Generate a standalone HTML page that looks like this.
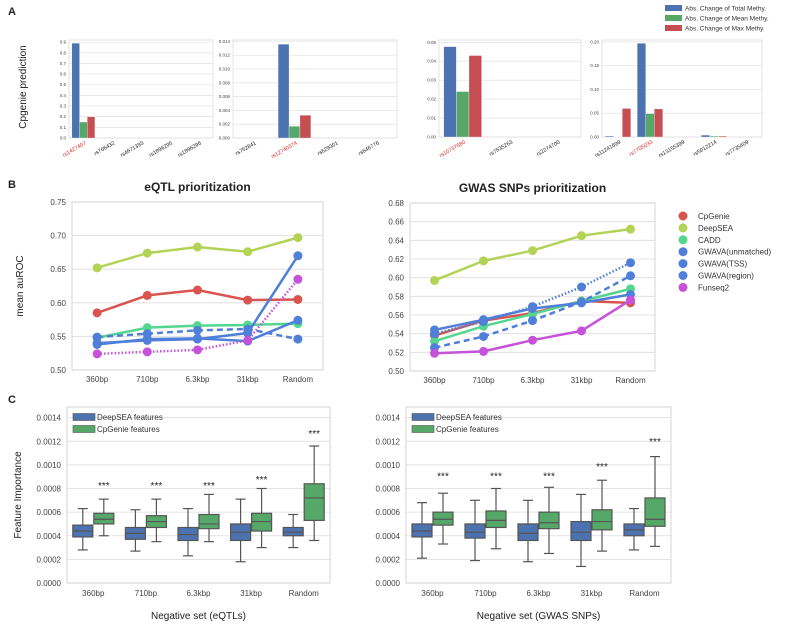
<!DOCTYPE html>
<html><head><meta charset="utf-8">
<style>
body{margin:0;background:#fff;}
svg{display:block;font-family:"Liberation Sans","DejaVu Sans",sans-serif;}
</style></head>
<body>
<svg id="fig" width="786" height="625" viewBox="0 0 786 625"></svg>
<script>
// ---------- Panel A data ----------
const aCats1=["rs1427407","rs766432","rs4671393","rs1896295","rs1896296"];
const aTotal1=[0.89,0,0,0,0], aMean1=[0.15,0,0,0,0], aMax1=[0.20,0,0,0,0];
const aTicks1=["0.0","0.1","0.2","0.3","0.4","0.5","0.6","0.7","0.8","0.9"];
const aCats2=["rs752841","rs12740374","rs629301","rs646776"];
const aTotal2=[0,0.0136,0,0], aMean2=[0,0.0017,0,0], aMax2=[0,0.0033,0,0];
const aTicks2=["0.000","0.002","0.004","0.006","0.008","0.010","0.012","0.014"];
const aCats3=["rs10737680","rs7535263","rs2274700"];
const aTotal3=[0.0477,0,0], aMean3=[0.024,0,0], aMax3=[0.043,0,0];
const aTicks3=["0.00","0.01","0.02","0.03","0.04","0.05"];
const aCats4=["rs11241699","rs7705033","rs13155399","rs5012214","rs7735409"];
const aTotal4=[0.002,0.197,0,0.004,0], aMean4=[0.0005,0.049,0,0.002,0], aMax4=[0.06,0.059,0,0.002,0];
const aTicks4=["0.00","0.05","0.10","0.15","0.20"];
const aHighlight=["rs1427407","rs12740374","rs10737680","rs7705033"];

// ---------- Panel B data ----------
const bCats=["360bp","710bp","6.3kbp","31kbp","Random"];
const bSeries=["CpGenie","DeepSEA","CADD","GWAVA(unmatched)","GWAVA(TSS)","GWAVA(region)","Funseq2"];
const bTicksL=["0.50","0.55","0.60","0.65","0.70","0.75"];
const bTicksR=["0.50","0.52","0.54","0.56","0.58","0.60","0.62","0.64","0.66","0.68"];
const eCpGenie=[0.585,0.611,0.619,0.604,0.605];
const eDeepSEA=[0.652,0.674,0.683,0.676,0.697];
const eCADD=[0.548,0.563,0.566,0.567,0.569];
const eUnmatched=[0.538,0.546,0.547,0.543,0.574];
const eTSS=[0.549,0.554,0.559,0.561,0.546];
const eRegion=[0.540,0.544,0.546,0.555,0.670];
const eFunseq=[0.524,0.527,0.530,0.544,0.635];
const gCpGenie=[0.538,0.554,0.562,0.575,0.573];
const gDeepSEA=[0.597,0.618,0.629,0.645,0.652];
const gCADD=[0.532,0.548,0.561,0.575,0.588];
const gUnmatched=[0.544,0.555,0.567,0.573,0.582];
const gTSS=[0.525,0.537,0.554,0.574,0.602];
const gRegion=[0.540,0.553,0.569,0.590,0.616];
const gFunseq=[0.519,0.521,0.533,0.543,0.576];

// ---------- Panel C data ----------
const cTicks=["0.0000","0.0002","0.0004","0.0006","0.0008","0.0010","0.0012","0.0014"];
// [whisker low, q1, median, q3, whisker high]
const eqDeep=[[0.00028,0.00039,0.00044,0.00049,0.00063],[0.00027,0.00037,0.00042,0.00047,0.00062],[0.00023,0.00036,0.00041,0.00047,0.00063],[0.00018,0.00036,0.00043,0.00050,0.00071],[0.00030,0.00040,0.00043,0.00047,0.00058]];
const eqCpG=[[0.00040,0.00050,0.00054,0.00059,0.00071],[0.00035,0.00047,0.00052,0.00057,0.00071],[0.00035,0.00046,0.00050,0.00058,0.00075],[0.00030,0.00044,0.00052,0.00059,0.00080],[0.00036,0.00053,0.00072,0.00084,0.00116]];
const eqStars=[0.00084,0.00084,0.00084,0.00089,0.00128];
const gwDeep=[[0.00021,0.00039,0.00044,0.00050,0.00068],[0.00019,0.00038,0.00043,0.00050,0.00070],[0.00018,0.00036,0.00042,0.00050,0.00070],[0.00014,0.00036,0.00043,0.00052,0.00075],[0.00028,0.00040,0.00045,0.00050,0.00063]];
const gwCpG=[[0.00033,0.00049,0.00054,0.00060,0.00076],[0.00029,0.00047,0.00053,0.00061,0.00080],[0.00025,0.00046,0.00051,0.00060,0.00081],[0.00027,0.00045,0.00052,0.00062,0.00087],[0.00031,0.00048,0.00054,0.00072,0.00107]];
const gwStars=[0.00092,0.00092,0.00092,0.00100,0.00121];

const NS="http://www.w3.org/2000/svg";
const svg=document.getElementById('fig');
function el(tag,attrs,parent){const e=document.createElementNS(NS,tag);for(const k in attrs)e.setAttribute(k,attrs[k]);(parent||svg).appendChild(e);return e;}
function txt(s,attrs,parent){const e=el('text',attrs,parent);e.textContent=s;return e;}
const BLUE="#4c72b0",GREEN="#55a868",RED="#c44e52",GRID="#dcdcdc";

// panel letters
[["A",8,15],["B",8,188],["C",8,403]].forEach(p=>{
 const t=txt(p[0],{x:p[1],y:p[2],'font-size':11,'font-weight':'bold',fill:'#222'});
 
 
});

// ---------- Panel A ----------
function barPanel(idx,x0,x1,y0,y1,cats,tot,mean,mx,ticks,ymax){
 const g=el('g',{});
 
 
 const ys=v=>y1-(v/ymax)*(y1-y0);
 ticks.forEach(t=>{const y=ys(parseFloat(t));
  el('line',{x1:x0,x2:x1,y1:y,y2:y,stroke:GRID,'stroke-width':0.6},g);
  const l=txt(t,{x:x0-3,y:y+1.5,'font-size':4.5,'text-anchor':'end',fill:'#444'},g);
  
  
 });
 el('rect',{x:x0,y:y0,width:x1-x0,height:y1-y0,fill:'none',stroke:'#ddd','stroke-width':0.8},g);
 const bw=(x1-x0)/cats.length;
 cats.forEach((c,i)=>{
  const cx=x0+bw*(i+0.5), w=bw*0.8/3;
  [[tot,BLUE,'total'],[mean,GREEN,'mean'],[mx,RED,'max']].forEach((s,j)=>{
   const v=s[0][i]; if(v<=0) return;
   const r=el('rect',{x:cx-bw*0.4+j*w,y:ys(v),width:w,height:y1-ys(v),fill:s[1],stroke:'#fff','stroke-width':0.3},g);
   
   
  });
  const l=txt(c,{x:cx+3,y:y1+6,'font-size':5.5,'text-anchor':'end',fill:aHighlight.includes(c)?'#d62728':'#222',transform:`rotate(-30 ${cx+3} ${y1+6})`},g);
  
  
 });
}
barPanel(1,69,213,40,138,aCats1,aTotal1,aMean1,aMax1,aTicks1,0.92);
barPanel(2,233,397,40,138,aCats2,aTotal2,aMean2,aMax2,aTicks2,0.0142);
barPanel(3,439,581,40,137,aCats3,aTotal3,aMean3,aMax3,aTicks3,0.0512);
barPanel(4,602,762,40,137,aCats4,aTotal4,aMean4,aMax4,aTicks4,0.204);
{const t=txt("Cpgenie prediction",{x:26,y:87,'font-size':10,'text-anchor':'middle',fill:'#222',transform:'rotate(-90 26 87)'});
 
 }
// legend A
[["Abs. Change of Total Methy.",BLUE],["Abs. Change of Mean Methy.",GREEN],["Abs. Change of Max Methy.",RED]].forEach((d,i)=>{
 const y=8+i*10;
 const r=el('rect',{x:665,y:y-3,width:17,height:6,fill:d[1]});
 
 
 const t=txt(d[0],{x:685,y:y+2.5,'font-size':6.5,fill:'#333'});
 
 
});

// ---------- Panel B ----------
const bColors=["#d9534f","#b3d357","#55d68f","#4f7fd8","#4f7fd8","#4f7fd8","#c552d8"];
function linePanel(name,x0,x1,y0,y1,ticks,ymin,ymax,series,dashes,title){
 const g=el('g',{});
 
 
 const ys=v=>y1-(v-ymin)/(ymax-ymin)*(y1-y0);
 const bw=(x1-x0)/bCats.length, xs=i=>x0+bw*(i+0.5);
 ticks.forEach(t=>{const y=ys(parseFloat(t));
  el('line',{x1:x0,x2:x1,y1:y,y2:y,stroke:GRID,'stroke-width':0.8},g);
  const l=txt(t,{x:x0-6,y:y+3,'font-size':8,'text-anchor':'end',fill:'#444'},g);
  
  
 });
 el('rect',{x:x0,y:y0,width:x1-x0,height:y1-y0,fill:'none',stroke:'#ccc','stroke-width':0.8},g);
 bCats.forEach((c,i)=>{const l=txt(c,{x:xs(i),y:y1+12,'font-size':8,'text-anchor':'middle',fill:'#444'},g);
  
  });
 series.forEach((s,k)=>{
  const pts=s.map((v,i)=>xs(i)+','+ys(v)).join(' ');
  const pl=el('polyline',{points:pts,fill:'none',stroke:bColors[k],'stroke-width':2.5,'stroke-dasharray':dashes[k]},g);
  
  
  s.forEach((v,i)=>{const c=el('circle',{cx:xs(i),cy:ys(v),r:4.5,fill:bColors[k]},g);
   
   });
 });
 const t=txt(title,{x:(x0+x1)/2,y:y0-11,'font-size':12,'font-weight':'bold','text-anchor':'middle',fill:'#222'},g);
 
 
}
linePanel('line-chart-eqtl',72,323,202,370,bTicksL,0.50,0.75,[eCpGenie,eDeepSEA,eCADD,eUnmatched,eTSS,eRegion,eFunseq],["","","","","6,4","","1.5,2"],"eQTL prioritization");
linePanel('line-chart-gwas',410,655,203,371,bTicksR,0.50,0.68,[gCpGenie,gDeepSEA,gCADD,gUnmatched,gTSS,gRegion,gFunseq],["","","","","6,4","1.5,2",""],"GWAS SNPs prioritization");
{const t=txt("mean auROC",{x:23,y:286,'font-size':10,'text-anchor':'middle',fill:'#222',transform:'rotate(-90 23 286)'});
 
 }
bSeries.forEach((s,i)=>{
 const y=216+i*11.9;
 const c=el('circle',{cx:683,cy:y,r:4.5,fill:bColors[i]});
 
 
 const t=txt(s,{x:698,y:y+3,'font-size':8,fill:'#333'});
 
 
});

// ---------- Panel C ----------
function boxPanel(name,x0,x1,y0,y1,deep,cpg,stars,xlabel){
 const g=el('g',{});
 
 
 const ymax=0.00149, ys=v=>y1-(v/ymax)*(y1-y0);
 cTicks.forEach(t=>{const y=ys(parseFloat(t));
  el('line',{x1:x0,x2:x1,y1:y,y2:y,stroke:GRID,'stroke-width':0.8},g);
  const l=txt(t,{x:x0-6,y:y+3,'font-size':8,'text-anchor':'end',fill:'#444'},g);
  
  
 });
 el('rect',{x:x0,y:y0,width:x1-x0,height:y1-y0,fill:'none',stroke:'#ccc','stroke-width':0.8},g);
 const bw=(x1-x0)/bCats.length;
 bCats.forEach((c,i)=>{
  const cx=x0+bw*(i+0.5);
  [[deep[i],BLUE,-10.5,'deepsea'],[cpg[i],GREEN,10.5,'cpgenie']].forEach(s=>{
   const d=s[0], bx=cx+s[2], w=20;
   const stroke='#555';
   el('line',{x1:bx,x2:bx,y1:ys(d[0]),y2:ys(d[1]),stroke,'stroke-width':1.2},g);
   el('line',{x1:bx,x2:bx,y1:ys(d[3]),y2:ys(d[4]),stroke,'stroke-width':1.2},g);
   el('line',{x1:bx-5,x2:bx+5,y1:ys(d[0]),y2:ys(d[0]),stroke,'stroke-width':1.2},g);
   el('line',{x1:bx-5,x2:bx+5,y1:ys(d[4]),y2:ys(d[4]),stroke,'stroke-width':1.2},g);
   const r=el('rect',{x:bx-w/2,y:ys(d[3]),width:w,height:ys(d[1])-ys(d[3]),fill:s[1],stroke,'stroke-width':1.2},g);
   
   
   el('line',{x1:bx-w/2,x2:bx+w/2,y1:ys(d[2]),y2:ys(d[2]),stroke,'stroke-width':1.2},g);
  });
  const st=txt("***",{x:cx+10.5,y:ys(stars[i])+5,'font-size':10,'text-anchor':'middle',fill:'#222'},g);
  
  
  const l=txt(c,{x:cx,y:y1+13,'font-size':8,'text-anchor':'middle',fill:'#444'},g);
  
  
 });
 [["DeepSEA features",BLUE],["CpGenie features",GREEN]].forEach((d,i)=>{
  const y=y0+10+i*12;
  const r=el('rect',{x:x0+6,y:y-3.5,width:22,height:7,fill:d[1],stroke:'#555','stroke-width':0.6},g);
  
  
  const t=txt(d[0],{x:x0+30,y:y+3,'font-size':8,fill:'#333'},g);
  
  
 });
 const xl=txt(xlabel,{x:(x0+x1)/2,y:y1+36,'font-size':10,'text-anchor':'middle',fill:'#222'},g);
 
 
}
boxPanel('box-chart-eqtl',67,330,407,583,eqDeep,eqCpG,eqStars,"Negative set (eQTLs)");
boxPanel('box-chart-gwas',406,671,407,583,gwDeep,gwCpG,gwStars,"Negative set (GWAS SNPs)");
{const t=txt("Feature Importance",{x:21,y:495,'font-size':10,'text-anchor':'middle',fill:'#222',transform:'rotate(-90 21 495)'});
 
 }
</script>
</body></html>
